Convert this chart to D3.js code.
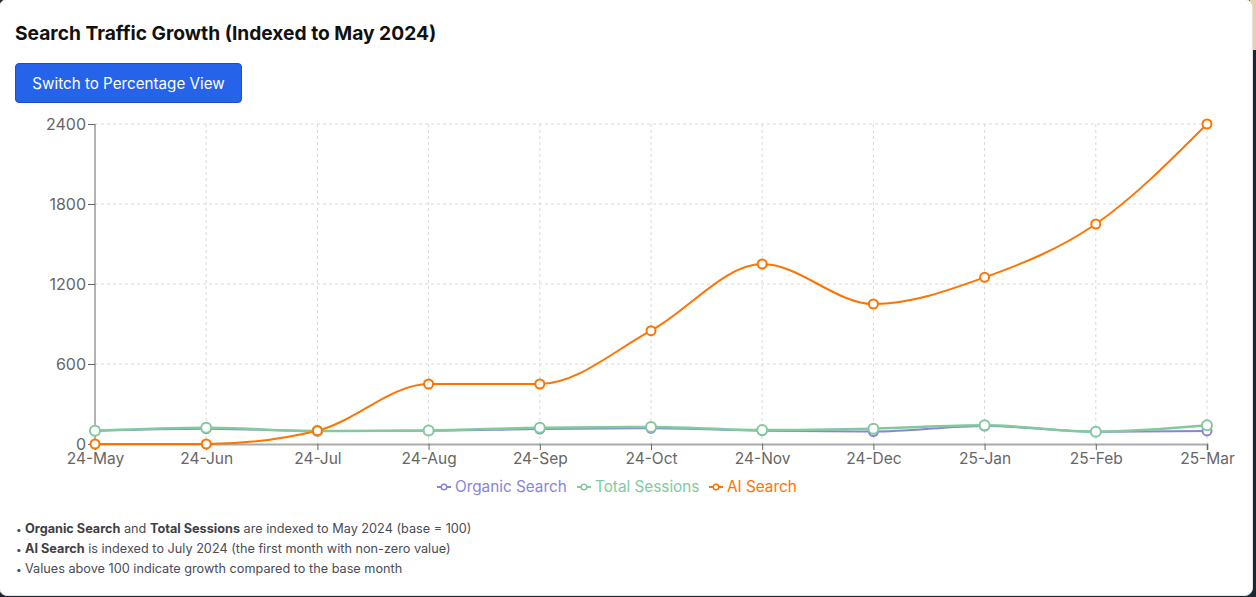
<!DOCTYPE html>
<html><head><meta charset="utf-8">
<script src="https://cdn.jsdelivr.net/npm/d3@7"></script>
<style>
html,body{margin:0;padding:0;}
body{width:1256px;height:597px;background:#1d2636;position:relative;overflow:hidden;font-family:"Inter","Liberation Sans",Arial,sans-serif;}
#strip{position:absolute;left:1250px;top:0;width:6px;height:50px;background:#e9cfa3;}
#card{position:absolute;left:-1px;top:-1px;width:1252px;height:595px;background:#fff;border:1px solid #e2e2e2;border-radius:8px;}
#title{position:absolute;left:15px;top:21px;font-size:19.2px;font-weight:700;color:#111;}
#btn{position:absolute;left:15px;top:63px;width:225px;height:38px;background:#2563eb;border:1px solid #1d4fc4;border-radius:4px;color:#fff;font-size:15.2px;line-height:39px;text-align:center;}
#notes{position:absolute;left:16px;top:519px;font-size:12.7px;color:#4b4b55;line-height:20px;}
#notes b{font-weight:700;color:#3f3f46;}
#notes .bl{display:inline-block;width:9px;font-size:10px;}
svg{position:absolute;left:0;top:0;}
</style></head>
<body>
<div id="strip"></div>
<div id="card"></div>
<div id="title">Search Traffic Growth (Indexed to May 2024)</div>
<div id="btn">Switch to Percentage View</div>
<svg id="chart" width="1256" height="597"></svg>
<div id="notes">
<div><span class="bl">•</span><b>Organic Search</b> and <b>Total Sessions</b> are indexed to May 2024 (base = 100)</div>
<div><span class="bl">•</span><b>AI Search</b> is indexed to July 2024 (the first month with non-zero value)</div>
<div><span class="bl">•</span>Values above 100 indicate growth compared to the base month</div>
</div>
<script>
const months = ["24-May","24-Jun","24-Jul","24-Aug","24-Sep","24-Oct","24-Nov","24-Dec","25-Jan","25-Feb","25-Mar"];
const organicSearch = [100,115,98,100,112,118,100,93,135,92,98];
const totalSessions = [100,122,97,102,122,128,105,115,140,92,140];
const aiSearch = [0,0,100,450,450,850,1350,1050,1250,1650,2400];
const yTicks = [0,600,1200,1800,2400];
const seriesNames = ["Organic Search","Total Sessions","AI Search"];
const seriesColors = ["#8884d8","#82ca9d","#ff7300"];

(function(){
const svg = d3.select("#chart");
const pL=95,pR=1207,pT=124,pB=444;
const FONT="Inter, Liberation Sans, Arial, sans-serif";
const x = d3.scalePoint().domain(months).range([pL,pR]);
const y = d3.scaleLinear().domain([0,2400]).range([pB,pT]);

// grid
const g = svg.append("g");
g.selectAll(".hg").data(yTicks.filter(d=>d>0)).enter().append("line")
 .attr("x1",pL).attr("x2",pR).attr("y1",d=>y(d)).attr("y2",d=>y(d))
 .attr("stroke","#d9d9d9").attr("stroke-dasharray","3 3");
g.selectAll(".vg").data(months.slice(1)).enter().append("line")
 .attr("x1",d=>x(d)).attr("x2",d=>x(d)).attr("y1",pT).attr("y2",pB)
 .attr("stroke","#d9d9d9").attr("stroke-dasharray","3 3");

// x axis
const xa = svg.append("g").attr("transform",`translate(0,${pB})`)
 .call(d3.axisBottom(x).tickSize(6).tickPadding(3));
xa.select(".domain").attr("stroke","#aaa").attr("stroke-width",2);
xa.selectAll(".tick line").attr("stroke","#666");
xa.selectAll(".tick text").attr("fill","#666").attr("font-size","15.5px").attr("font-family",FONT);

// y axis
const ya = svg.append("g").attr("transform",`translate(${pL},0)`)
 .call(d3.axisLeft(y).tickValues(yTicks).tickFormat(d3.format("d")).tickSize(7).tickPadding(2));
ya.select(".domain").attr("stroke","#666").attr("d",`M0,${pT}V${pB}`);
ya.selectAll(".tick line").attr("stroke","#666");
ya.selectAll(".tick text").attr("fill","#666").attr("font-size","16px").attr("font-family",FONT);

// lines
const allData = [organicSearch,totalSessions,aiSearch];
const line = d3.line().x((d,i)=>x(months[i])).y(d=>y(d)).curve(d3.curveMonotoneX);
allData.forEach((vals,k)=>{
  svg.append("path").attr("d",line(vals)).attr("fill","none")
   .attr("stroke",seriesColors[k]).attr("stroke-width",k===1?2.5:2);
});
allData.forEach((vals,k)=>{
  svg.append("g").selectAll("circle").data(vals).enter().append("circle")
   .attr("cx",(d,i)=>x(months[i])).attr("cy",d=>y(d)).attr("r",k===1?5:4.5)
   .attr("fill","#fff").attr("stroke",seriesColors[k]).attr("stroke-width",2);
});

// legend
const lg = svg.append("g").attr("font-family",FONT).attr("font-size","15.3px");
const legendX = [437,577,709];
seriesNames.forEach((n,k)=>{
  const gx = legendX[k], gy = 487;
  lg.append("line").attr("x1",gx).attr("x2",gx+14).attr("y1",gy).attr("y2",gy)
   .attr("stroke",seriesColors[k]).attr("stroke-width",2);
  lg.append("circle").attr("cx",gx+7).attr("cy",gy).attr("r",2.8)
   .attr("fill","#fff").attr("stroke",seriesColors[k]).attr("stroke-width",1.5);
  lg.append("text").attr("x",gx+18).attr("y",gy).attr("dy","0.35em")
   .attr("fill",seriesColors[k]).text(n);
});
})();
</script>
</body></html>
